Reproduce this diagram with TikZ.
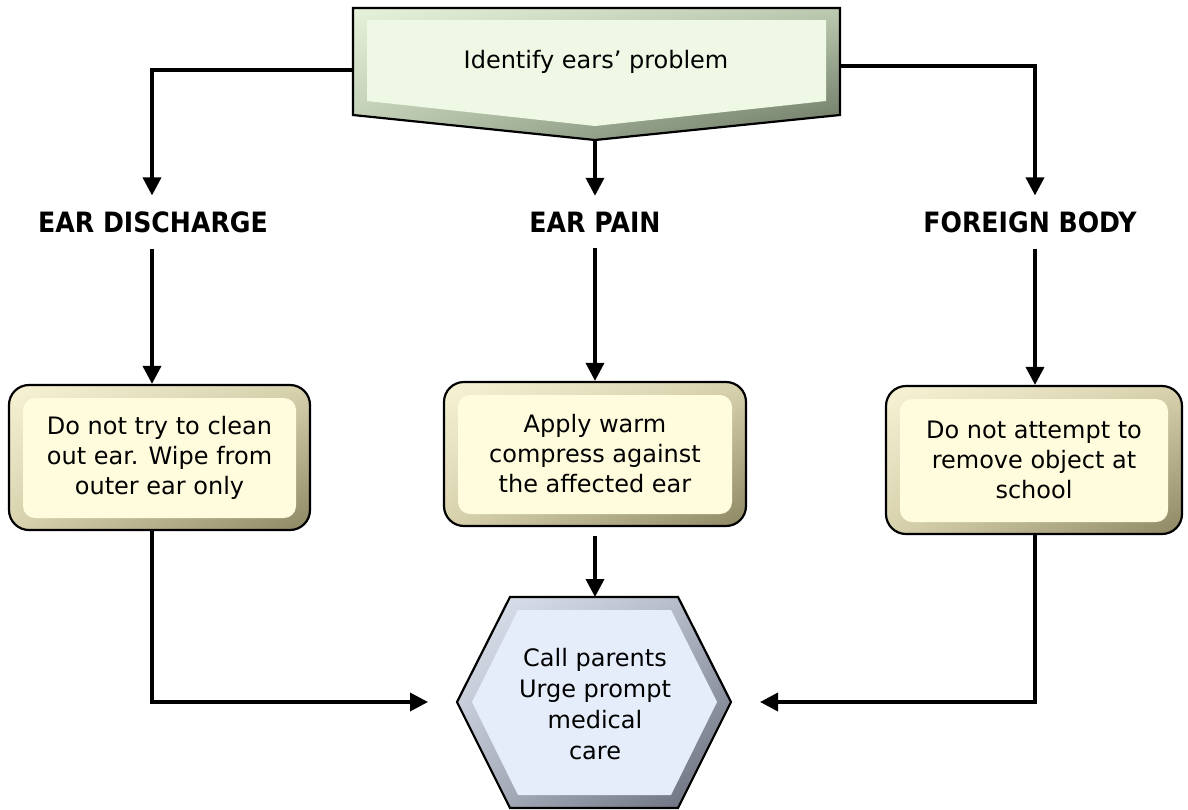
\documentclass[tikz,border=0pt]{standalone}
\usepackage{fontspec}
\setmainfont{DejaVu Sans}
\newfontfamily\labelfont{DejaVu Sans}[FakeStretch=0.9]
\usetikzlibrary{arrows.meta,calc,shadings}

% panel and bevel colours
\definecolor{creamPanel}{HTML}{FEFCDC}
\definecolor{creamLight}{HTML}{F7F3D4}
\definecolor{creamMid}{HTML}{D8D2AE}
\definecolor{creamDark}{HTML}{8E8764}
\definecolor{greenPanel}{HTML}{EEF8E4}
\definecolor{greenLight}{HTML}{E6F2DA}
\definecolor{greenMid}{HTML}{BCCAB0}
\definecolor{greenDark}{HTML}{66725E}
\definecolor{bluePanel}{HTML}{E5EDFA}
\definecolor{blueLight}{HTML}{E2E8F2}
\definecolor{blueMid}{HTML}{AEB4C2}
\definecolor{blueDark}{HTML}{646876}

\tikzset{
  conn/.style={line width=3.6pt, -{Triangle[width=18pt,length=18pt]}},
  bodytext/.style={font=\fontsize{24}{30}\selectfont, align=center, text=black},
  heading/.style={font=\labelfont\bfseries\fontsize{28}{32}\selectfont,
    inner sep=0pt, outer xsep=0pt, outer ysep=16pt},
  outline/.style={draw=black, line width=2.2pt, line join=miter},
  stepcard/.style={draw=black, line width=2.2pt, rounded corners=20pt,
    inner sep=0pt, bodytext,
    path picture={
      \shade[upper left=creamLight, upper right=creamMid,
             lower left=creamMid, lower right=creamDark]
        (path picture bounding box.south west) rectangle
        (path picture bounding box.north east);
      \fill[creamPanel, rounded corners=12pt]
        ($(path picture bounding box.south west)+(14,-12)$) rectangle
        ($(path picture bounding box.north east)+(-14,13)$);
    }},
}

\begin{document}
\begin{tikzpicture}[x=1pt, y=-1pt]
  \useasboundingbox (0,0) rectangle (1188,809);
  \fill[white] (0,0) rectangle (1188,809);

  % start shape: banner pointing down
  \shade[upper left=greenLight, upper right=greenMid,
         lower left=greenMid, lower right=greenDark]
    (353,8) -- (840,8) -- (840,115) -- (595,140) -- (353,115) -- cycle;
  \fill[greenPanel]
    (367,20) -- (826,20) -- (826,101) -- (595,126) -- (367,101) -- cycle;
  \draw[outline]
    (353,8) -- (840,8) -- (840,115) -- (595,140) -- (353,115) -- cycle;
  \node[bodytext] (top) at (596,62) {Identify ears’ problem};
  \coordinate (topL) at (353,70);
  \coordinate (topR) at (840,66);
  \coordinate (topB) at (595,140);

  % problem headings
  \node[heading] (lab1) at (153,222) {EAR DISCHARGE};
  \node[heading] (lab2) at (595,222) {EAR PAIN};
  \node[heading] (lab3) at (1030,222) {FOREIGN BODY};
  \coordinate (col1) at (152,0);
  \coordinate (col3) at (1035,0);

  % action cards
  \node[stepcard, minimum width=301pt, minimum height=145pt] (b1) at (159.5,457.5)
    {Do not try to clean\\out ear. Wipe from\\outer ear only};
  \node[stepcard, minimum width=302pt, minimum height=144pt] (b2) at (595,454)
    {Apply warm\\compress against\\the affected ear};
  \node[stepcard, minimum width=296pt, minimum height=148pt] (b3) at (1034,460)
    {Do not attempt to\\remove object at\\school};

  % final step: hexagon
  \shade[upper left=blueLight, upper right=blueMid,
         lower left=blueMid, lower right=blueDark]
    (510,597) -- (678,597) -- (731,702) -- (678,808) -- (510,808) -- (457,702) -- cycle;
  \fill[bluePanel]
    (518,610) -- (671,610) -- (717,702) -- (671,795) -- (518,795) -- (472,702) -- cycle;
  \draw[outline]
    (510,597) -- (678,597) -- (731,702) -- (678,808) -- (510,808) -- (457,702) -- cycle;
  \node[bodytext, font=\fontsize{24}{31}\selectfont] (hex) at (595,704)
    {Call parents\\Urge prompt\\medical\\care};
  \coordinate (hexT) at (595,597);
  \coordinate (hexL) at (457,702);
  \coordinate (hexR) at (731,702);

  % connectors
  \draw[conn] (topL) -| (col1 |- lab1.north);
  \draw[conn] (topB) -- (lab2.north);
  \draw[conn] (topR) -| (col3 |- lab3.north);

  \draw[conn] (col1 |- lab1.south) -- (col1 |- b1.north);
  \draw[conn] (lab2.south) -- (b2.north);
  \draw[conn] (col3 |- lab3.south) -- (col3 |- b3.north);

  \draw[conn, shorten >=29pt] (col1 |- b1.south) |- (hexL);
  \draw[conn, shorten <=9pt] (b2.south) -- (hexT);
  \draw[conn, shorten >=29pt] (col3 |- b3.south) |- (hexR);
\end{tikzpicture}
\end{document}
